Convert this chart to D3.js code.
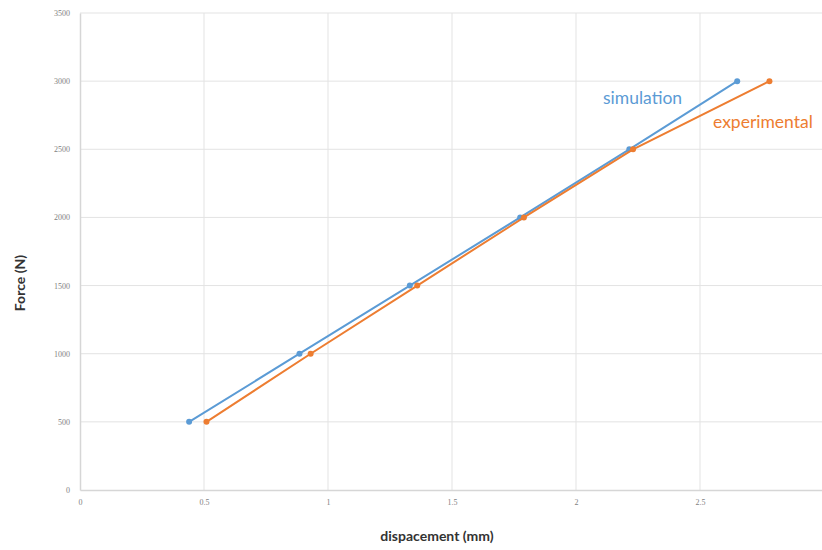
<!DOCTYPE html>
<html><head><meta charset="utf-8">
<script src="https://cdn.jsdelivr.net/npm/d3@7"></script>
<style>body{margin:0;background:#fff}svg{display:block}</style>
</head><body>
<svg id="c" width="822" height="550"></svg>
<script>
const forceLevels = [500, 1000, 1500, 2000, 2500, 3000];
const simulationDisp = [0.44, 0.885, 1.33, 1.775, 2.215, 2.65];
const experimentalDisp = [0.51, 0.93, 1.36, 1.79, 2.23, 2.78];
const xTicks = [0, 0.5, 1, 1.5, 2, 2.5];
const xGrid = [0.5, 1, 1.5, 2, 2.5, 3];
const yTicks = [0, 500, 1000, 1500, 2000, 2500, 3000, 3500];
const seriesNames = ["simulation", "experimental"];
const colors = ["#5b9bd5", "#ed7d31"];

const svg = d3.select("#c");
const x = d3.scaleLinear().domain([0, 3]).range([80, 824]);
const y = d3.scaleLinear().domain([0, 3500]).range([490, 13]);

// gridlines
svg.append("g").selectAll("line").data(yTicks.slice(1)).join("line")
  .attr("x1", 80).attr("x2", 824).attr("y1", d => y(d)).attr("y2", d => y(d))
  .attr("stroke", "#e3e3e3").attr("stroke-width", 1);
svg.append("g").selectAll("line").data(xGrid).join("line")
  .attr("x1", d => x(d)).attr("x2", d => x(d)).attr("y1", 13).attr("y2", 490)
  .attr("stroke", "#e3e3e3").attr("stroke-width", 1);

// axes
const xAxis = svg.append("g").attr("transform", "translate(0,490)")
  .call(d3.axisBottom(x).tickValues(xTicks).tickSize(0).tickPadding(9).tickFormat(d3.format("")));
const yAxis = svg.append("g").attr("transform", "translate(80,0)")
  .call(d3.axisLeft(y).tickValues(yTicks).tickSize(0).tickPadding(10).tickFormat(d3.format("")));
[xAxis, yAxis].forEach(a => {
  a.select(".domain").attr("stroke", "#d6d6d6").attr("stroke-width", 1.5);
  a.selectAll("text").attr("fill", "#7f7f7f").style("font-family", "Liberation Serif, serif").style("font-size", "8px");
});

// series
const series = [simulationDisp, experimentalDisp];
const line = d3.line().x(d => x(d[0])).y(d => y(d[1]));
series.forEach((s, i) => {
  const pts = s.map((v, j) => [v, forceLevels[j]]);
  svg.append("path").datum(pts).attr("d", line)
    .attr("fill", "none").attr("stroke", colors[i]).attr("stroke-width", 2);
  svg.append("g").selectAll("circle").data(pts).join("circle")
    .attr("cx", d => x(d[0])).attr("cy", d => y(d[1])).attr("r", 3)
    .attr("fill", colors[i]);
});

// series labels
svg.append("text").attr("x", 603).attr("y", 104).text(seriesNames[0])
  .attr("fill", colors[0]).style("font-family", "Lato, sans-serif").style("font-size", "17.5px");
svg.append("text").attr("x", 713).attr("y", 128).text(seriesNames[1])
  .attr("fill", colors[1]).style("font-family", "Lato, sans-serif").style("font-size", "17.5px");

// axis titles
svg.append("text").attr("x", 437).attr("y", 541).attr("text-anchor", "middle")
  .text("dispacement (mm)").attr("fill", "#333")
  .style("font-family", "Lato, sans-serif").style("font-weight", "bold").style("font-size", "14px");
svg.append("text").attr("transform", "translate(25,283) rotate(-90)").attr("text-anchor", "middle")
  .text("Force (N)").attr("fill", "#333")
  .style("font-family", "Lato, sans-serif").style("font-weight", "bold").style("font-size", "14px");
</script>
</body></html>
